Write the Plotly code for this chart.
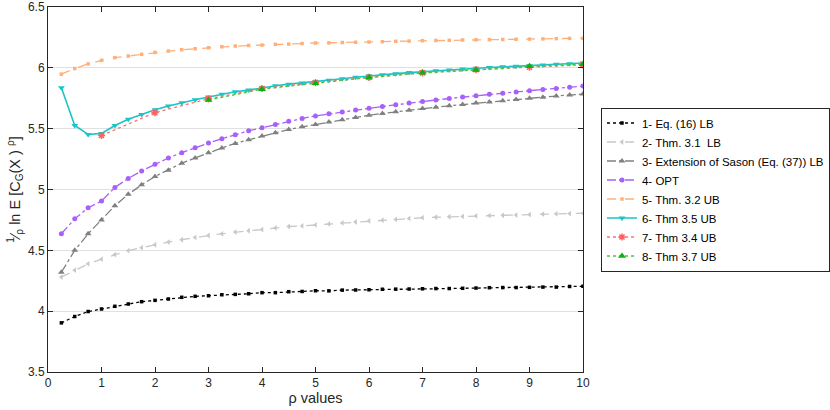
import plotly.graph_objects as go

rho = [0.25 * i for i in range(1, 41)]
rho_int = [1, 2, 3, 4, 5, 6, 7, 8, 9, 10]
rho_int3 = [3, 4, 5, 6, 7, 8, 9, 10]

s1_eq16_lb = [3.904, 3.956, 3.997, 4.018, 4.040, 4.059, 4.078, 4.089, 4.100, 4.114,
              4.122, 4.127, 4.135, 4.138, 4.143, 4.152, 4.152, 4.160, 4.162, 4.168,
              4.167, 4.173, 4.174, 4.176, 4.180, 4.181, 4.182, 4.184, 4.186, 4.186,
              4.188, 4.190, 4.193, 4.194, 4.194, 4.196, 4.198, 4.198, 4.203, 4.205]
s2_thm31_lb = [4.280, 4.337, 4.389, 4.427, 4.465, 4.497, 4.522, 4.546, 4.568, 4.587,
               4.606, 4.622, 4.636, 4.650, 4.661, 4.671, 4.684, 4.696, 4.701, 4.709,
               4.717, 4.725, 4.733, 4.742, 4.748, 4.754, 4.762, 4.768, 4.772, 4.776,
               4.779, 4.783, 4.786, 4.788, 4.790, 4.794, 4.797, 4.800, 4.802, 4.805]
s3_sason_lb = [4.320, 4.500, 4.636, 4.750, 4.867, 4.960, 5.039, 5.107, 5.159, 5.216,
               5.259, 5.303, 5.341, 5.379, 5.409, 5.439, 5.466, 5.493, 5.515, 5.535,
               5.555, 5.574, 5.592, 5.610, 5.625, 5.639, 5.652, 5.665, 5.677, 5.688,
               5.699, 5.710, 5.720, 5.730, 5.740, 5.750, 5.759, 5.768, 5.777, 5.785]
s4_opt = [4.636, 4.759, 4.850, 4.905, 5.017, 5.091, 5.153, 5.207, 5.259, 5.303,
          5.344, 5.382, 5.417, 5.450, 5.482, 5.507, 5.534, 5.561, 5.584, 5.605,
          5.622, 5.638, 5.653, 5.667, 5.682, 5.697, 5.711, 5.724, 5.736, 5.748,
          5.760, 5.771, 5.782, 5.792, 5.802, 5.812, 5.822, 5.831, 5.841, 5.850]
s5_thm32_ub = [5.948, 5.994, 6.032, 6.062, 6.084, 6.097, 6.111, 6.127, 6.138, 6.149,
               6.157, 6.165, 6.173, 6.179, 6.184, 6.187, 6.193, 6.195, 6.200, 6.204,
               6.205, 6.208, 6.210, 6.212, 6.215, 6.218, 6.220, 6.223, 6.225, 6.226,
               6.229, 6.231, 6.232, 6.233, 6.235, 6.236, 6.238, 6.240, 6.242, 6.244]
s6_thm35_ub = [5.836, 5.526, 5.452, 5.461, 5.526, 5.578, 5.616, 5.656, 5.686, 5.713,
               5.738, 5.760, 5.782, 5.804, 5.817, 5.836, 5.853, 5.866, 5.876, 5.885,
               5.898, 5.910, 5.922, 5.934, 5.943, 5.952, 5.961, 5.969, 5.976, 5.983,
               5.990, 5.997, 6.003, 6.008, 6.013, 6.018, 6.024, 6.029, 6.034, 6.040]
s7_thm34_ub = [5.444, 5.632, 5.745, 5.830, 5.878, 5.922, 5.958, 5.985, 6.005, 6.025]
s8_thm37_ub = [5.735, 5.825, 5.874, 5.920, 5.959, 5.982, 6.012, 6.030]

names = ["1- Eq. (16) LB", "2- Thm. 3.1  LB", "3- Extension of Sason (Eq. (37)) LB",
         "4- OPT", "5- Thm. 3.2 UB", "6- Thm 3.5 UB", "7- Thm 3.4 UB", "8- Thm 3.7 UB"]

FONT = "Liberation Sans, Arial, sans-serif"

fig = go.Figure()

def add(x, y, name, color, dash, symbol, msize, width=1.3, mcolor=None):
    fig.add_trace(go.Scatter(
        x=x, y=y, name=name, mode="lines+markers",
        line=dict(color=color, dash=dash, width=width),
        marker=dict(symbol=symbol, size=msize, color=mcolor or color,
                    line=dict(width=0)),
    ))

add(rho, s1_eq16_lb, names[0], "#000000", "dot", "square", 3.5)
add(rho, s2_thm31_lb, names[1], "#c8c8c8", "dash", "triangle-left", 5)
add(rho, s3_sason_lb, names[2], "#808080", "dashdot", "triangle-up", 6)
add(rho, s4_opt, names[3], "#a860f8", "dashdot", "circle", 5)
add(rho, s5_thm32_ub, names[4], "#ffb07a", "dash", "square", 3.5)
add(rho, s6_thm35_ub, names[5], "#1cc4c6", "solid", "triangle-down", 6, width=1.6)
add(rho_int, s7_thm34_ub, names[6], "#ff7070", "dot", "asterisk", 6, mcolor="#ff6060")
add(rho_int3, s8_thm37_ub, names[7], "#3ccc3c", "dot", "triangle-up", 7, mcolor="#10b010")
fig.data[6].marker.line = dict(width=1.5, color="#ff6060")

axis_common = dict(
    showline=True, linecolor="#262626", linewidth=1, mirror="ticks",
    ticks="inside", ticklen=5, tickcolor="#262626",
    tickfont=dict(family=FONT, size=12, color="#262626"),
    zeroline=False, automargin=False,
)

fig.update_xaxes(range=[0, 10], dtick=1, showgrid=False,
                 title=dict(text="ρ values", standoff=3,
                            font=dict(family=FONT, size=14.5, color="#262626")),
                 **axis_common)
fig.update_yaxes(range=[3.5, 6.5], tick0=3.5, dtick=0.5, showgrid=True, gridcolor="#e0e0e0", gridwidth=1,
                 title=dict(text="<sup>1</sup>⁄<sub>ρ</sub> ln E [C<sub>G</sub>(X ) <sup>ρ</sup>]", standoff=3,
                            font=dict(family=FONT, size=14.5, color="#262626")),
                 **axis_common)

fig.update_layout(
    width=830, height=410,
    margin=dict(l=48, r=247, t=7, b=38, autoexpand=False),
    paper_bgcolor="white", plot_bgcolor="white",
    showlegend=True,
    legend=dict(x=1.0336, y=0.5, xanchor="left", yanchor="middle",
                bordercolor="#262626", borderwidth=1, bgcolor="white",
                font=dict(family=FONT, size=11.5, color="#000000"),
                tracegroupgap=0, itemwidth=30, traceorder="normal"),
)

fig.write_html("out.html", config={"displayModeBar": False},
               post_script="document.body.style.margin='0';document.body.style.padding='0';")
